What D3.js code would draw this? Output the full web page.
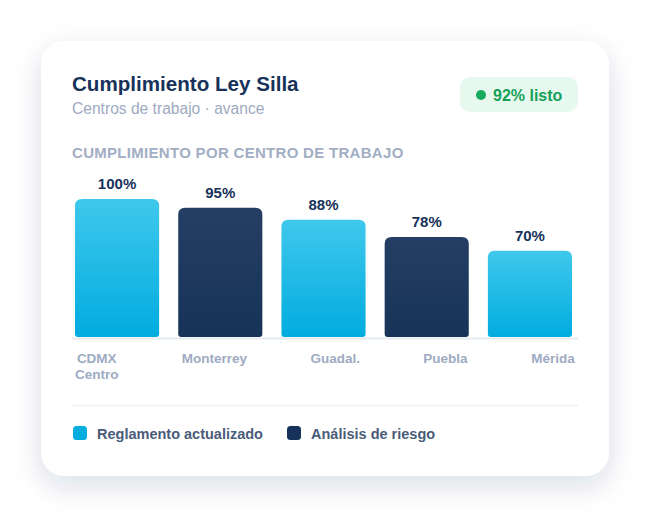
<!DOCTYPE html>
<html>
<head>
<meta charset="utf-8">
<script src="https://cdn.jsdelivr.net/npm/d3@7"></script>
<style>
  html, body { margin: 0; padding: 0; background: #ffffff; }
  svg { display: block; font-family: "Liberation Sans", Arial, Helvetica, sans-serif; }
</style>
</head>
<body>
<script>
const width = 650,
    height = 518;

// data
const centros = ["CDMX Centro", "Monterrey", "Guadal.", "Puebla", "Mérida"];
const avance = [100, 95, 88, 78, 70];
const serie = ["reglamento", "riesgo", "reglamento", "riesgo", "reglamento"];
const leyenda = ["Reglamento actualizado", "Análisis de riesgo"];
const badge = "92% listo";

const card = {x: 41, y: 41, w: 568, h: 435};

let svg = d3.select('body').append('svg')
    .attr('width', width)
    .attr('height', height);

let defs = svg.append('defs');
let shadow = defs.append('filter').attr('id', 'shadow')
    .attr('x', '-20%').attr('y', '-20%').attr('width', '140%').attr('height', '150%');
shadow.append('feDropShadow')
    .attr('dx', 0).attr('dy', 10)
    .attr('stdDeviation', 14)
    .attr('flood-color', '#1e3358')
    .attr('flood-opacity', 0.15);

let gLight = defs.append('linearGradient').attr('id', 'gLight')
    .attr('x1', 0).attr('y1', 0).attr('x2', 0).attr('y2', 1);
gLight.append('stop').attr('offset', '0%').attr('stop-color', '#3fc8ec');
gLight.append('stop').attr('offset', '100%').attr('stop-color', '#02acdf');

let gDark = defs.append('linearGradient').attr('id', 'gDark')
    .attr('x1', 0).attr('y1', 0).attr('x2', 0).attr('y2', 1);
gDark.append('stop').attr('offset', '0%').attr('stop-color', '#243e64');
gDark.append('stop').attr('offset', '100%').attr('stop-color', '#183358');

// card
svg.append('rect')
    .attr('x', card.x).attr('y', card.y)
    .attr('width', card.w).attr('height', card.h)
    .attr('rx', 24)
    .attr('fill', '#ffffff')
    .attr('filter', 'url(#shadow)');

// header
svg.append('text')
    .attr('x', 72).attr('y', 91)
    .attr('font-size', 20.6).attr('font-weight', 700)
    .attr('fill', '#17325a')
    .text('Cumplimiento Ley Silla');

svg.append('text')
    .attr('x', 72).attr('y', 114)
    .attr('font-size', 15.6)
    .attr('fill', '#9eaac0')
    .text('Centros de trabajo · avance');

// badge
let bg = svg.append('g');
bg.append('rect')
    .attr('x', 460).attr('y', 77)
    .attr('width', 118).attr('height', 35)
    .attr('rx', 10)
    .attr('fill', '#e7f8ef');
bg.append('circle')
    .attr('cx', 481).attr('cy', 95).attr('r', 5)
    .attr('fill', '#17aa5c');
bg.append('text')
    .attr('x', 493).attr('y', 101)
    .attr('font-size', 16).attr('font-weight', 700)
    .attr('fill', '#14a058')
    .text(badge);

svg.append('text')
    .attr('x', 72).attr('y', 158)
    .attr('font-size', 15).attr('font-weight', 700)
    .attr('letter-spacing', 0.3)
    .attr('fill', '#a2aec4')
    .text('CUMPLIMIENTO POR CENTRO DE TRABAJO');

// scales
const x = d3.scaleBand()
    .domain(centros)
    .range([75, 572])
    .paddingInner(0.185)
    .paddingOuter(0);

const y = d3.scaleLinear()
    .domain([20, 100])
    .range([337, 199]);

// baseline
svg.append('line')
    .attr('x1', 72).attr('x2', 578)
    .attr('y1', 338.5).attr('y2', 338.5)
    .attr('stroke', '#e6ebf2').attr('stroke-width', 2);

function barPath(x0, y0, w, h, rt, rb) {
    return `M${x0},${y0 + rt}` +
        `Q${x0},${y0} ${x0 + rt},${y0}` +
        `H${x0 + w - rt}` +
        `Q${x0 + w},${y0} ${x0 + w},${y0 + rt}` +
        `V${y0 + h - rb}` +
        `Q${x0 + w},${y0 + h} ${x0 + w - rb},${y0 + h}` +
        `H${x0 + rb}` +
        `Q${x0},${y0 + h} ${x0},${y0 + h - rb}Z`;
}

let data = centros.map((c, i) => ({name: c, value: avance[i], serie: serie[i]}));

svg.selectAll('path.bar')
    .data(data)
    .enter().append('path')
    .attr('class', 'bar')
    .attr('d', d => barPath(x(d.name), y(d.value), x.bandwidth(), y(20) - y(d.value), 7, 3))
    .attr('fill', d => d.serie === 'reglamento' ? 'url(#gLight)' : 'url(#gDark)');

svg.selectAll('text.val')
    .data(data)
    .enter().append('text')
    .attr('class', 'val')
    .attr('x', d => x(d.name) + x.bandwidth() / 2)
    .attr('y', d => y(d.value) - 10)
    .attr('text-anchor', 'middle')
    .attr('font-size', 15).attr('font-weight', 700)
    .attr('fill', '#17325a')
    .text(d => d.value + '%');

// category labels, spread edge to edge like a space-between row
let labels = svg.selectAll('text.cat')
    .data(data)
    .enter().append('text')
    .attr('class', 'cat')
    .attr('y', 363)
    .attr('text-anchor', 'middle')
    .attr('font-size', 13.5).attr('font-weight', 700)
    .attr('fill', '#9eabc2');

labels.each(function (d) {
    let t = d3.select(this);
    d.name.split(' ').forEach((w, j) => {
        t.append('tspan').attr('x', 0).attr('dy', j ? 16 : 0).text(w);
    });
});

let widths = [];
labels.each(function () { widths.push(this.getBBox().width); });
const left = 75, right = 575;
let gap = (right - left - d3.sum(widths)) / (widths.length - 1);
let cursor = left;
labels.each(function (d, i) {
    let cx = cursor + widths[i] / 2;
    d3.select(this).selectAll('tspan').attr('x', cx);
    cursor += widths[i] + gap;
});

// separator
svg.append('line')
    .attr('x1', 72).attr('x2', 578)
    .attr('y1', 405.5).attr('y2', 405.5)
    .attr('stroke', '#eef1f5').attr('stroke-width', 1.5);

// legend
const legendColor = d3.scaleOrdinal().domain(leyenda).range(['#03ade0', '#17325a']);
const legendX = [73, 287];
let lg = svg.selectAll('g.legend')
    .data(leyenda)
    .enter().append('g')
    .attr('class', 'legend')
    .attr('transform', (d, i) => `translate(${legendX[i]},426)`);
lg.append('rect')
    .attr('width', 14).attr('height', 14).attr('rx', 3.5)
    .attr('fill', d => legendColor(d));
lg.append('text')
    .attr('x', 24).attr('y', 13)
    .attr('font-size', 14.5).attr('font-weight', 700)
    .attr('fill', '#4a5c79')
    .text(d => d);
</script>
</body>
</html>
